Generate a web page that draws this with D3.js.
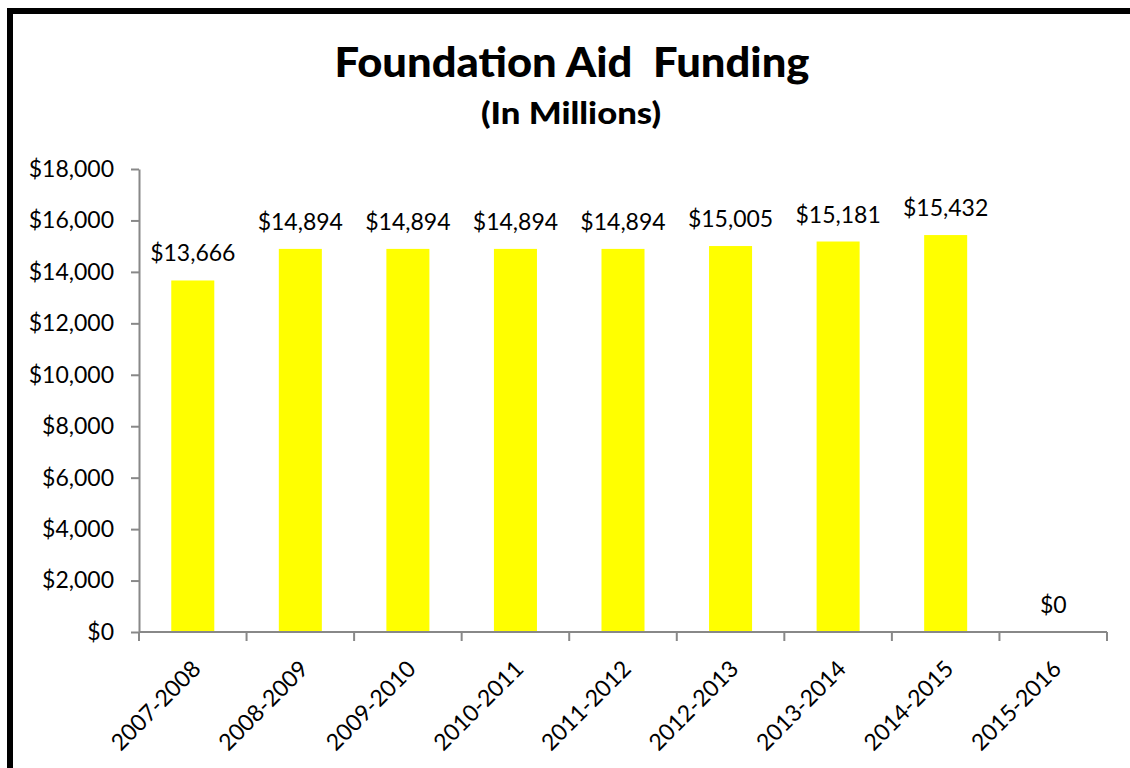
<!DOCTYPE html>
<html>
<head>
<meta charset="utf-8">
<script src="https://cdn.jsdelivr.net/npm/d3@7"></script>
<style>
  html, body { margin: 0; padding: 0; background: #fff; }
  svg { display: block; }
  text { font-family: Lato, "Open Sans", sans-serif; fill: #000; }
</style>
</head>
<body>
<svg id="chart" width="1130" height="768"></svg>
<script>
// Foundation Aid funding by school year, in millions of dollars
const years = ["2007-2008", "2008-2009", "2009-2010", "2010-2011", "2011-2012",
               "2012-2013", "2013-2014", "2014-2015", "2015-2016"];
const funding = [13666, 14894, 14894, 14894, 14894, 15005, 15181, 15432, 0];
const yTicks = [0, 2000, 4000, 6000, 8000, 10000, 12000, 14000, 16000, 18000];

const svg = d3.select("#chart");
const W = 1130, H = 768;
const plot = { left: 139, right: 1107, top: 169, bottom: 632 };
const money = d3.format("$,.0f");
const labelSize = "23px";

svg.append("rect").attr("width", W).attr("height", H).attr("fill", "#fff");

// Outer frame (top and left edges visible)
svg.append("path")
  .attr("d", `M10,${H + 10} L10,11 L${W + 10},11`)
  .attr("fill", "none")
  .attr("stroke", "#000")
  .attr("stroke-width", 6);

// Titles
svg.append("text")
  .attr("x", 572).attr("y", 77)
  .attr("text-anchor", "middle")
  .style("font-weight", "900").style("font-size", "41px")
  .attr("textLength", 475).attr("lengthAdjust", "spacingAndGlyphs")
  .attr("xml:space", "preserve")
  .text("Foundation Aid  Funding");

svg.append("text")
  .attr("x", 571).attr("y", 124)
  .attr("text-anchor", "middle")
  .style("font-weight", "900").style("font-size", "31px")
  .attr("textLength", 180).attr("lengthAdjust", "spacingAndGlyphs")
  .text("(In Millions)");

const x = d3.scaleBand()
  .domain(years)
  .range([plot.left, plot.right])
  .paddingInner(0.6)
  .paddingOuter(0.3);

const y = d3.scaleLinear()
  .domain([0, 18000])
  .range([plot.bottom, plot.top]);

const rows = years.map((yr, i) => ({ yr, v: funding[i] }));

// Bars
svg.append("g").selectAll("rect")
  .data(rows)
  .join("rect")
  .attr("x", d => x(d.yr))
  .attr("width", x.bandwidth())
  .attr("y", d => y(d.v))
  .attr("height", d => y(0) - y(d.v))
  .attr("fill", "#ffff00");

// Value labels
svg.append("g").selectAll("text")
  .data(rows)
  .join("text")
  .attr("x", d => x(d.yr) + x.bandwidth() / 2)
  .attr("y", d => y(d.v) - 19)
  .attr("text-anchor", "middle")
  .style("font-size", labelSize)
  .text(d => money(d.v));

// Y axis
const yAxis = svg.append("g")
  .attr("transform", `translate(${plot.left},0)`)
  .call(d3.axisLeft(y).tickValues(yTicks).tickFormat(money).tickSize(8).tickPadding(17).tickSizeOuter(0));
yAxis.select(".domain").attr("stroke", "#888").attr("stroke-width", 2);
yAxis.selectAll(".tick line").attr("stroke", "#888").attr("stroke-width", 2);
yAxis.selectAll(".tick text").style("font-size", labelSize).style("font-family", "Lato, sans-serif").attr("fill", "#000");

// X axis: baseline with ticks at category boundaries
const boundaries = d3.range(years.length + 1).map(i => plot.left + i * (plot.right - plot.left) / years.length);
const xg = svg.append("g");
xg.append("line")
  .attr("x1", plot.left).attr("x2", plot.right)
  .attr("y1", plot.bottom).attr("y2", plot.bottom)
  .attr("stroke", "#888").attr("stroke-width", 2);
xg.selectAll("line.tk")
  .data(boundaries)
  .join("line")
  .attr("class", "tk")
  .attr("x1", d => d).attr("x2", d => d)
  .attr("y1", plot.bottom).attr("y2", plot.bottom + 9)
  .attr("stroke", "#888").attr("stroke-width", 2);

xg.selectAll("text")
  .data(years)
  .join("text")
  .attr("transform", d => `translate(${x(d) + x.bandwidth() / 2 - 2},${plot.bottom + 27}) rotate(-45)`)
  .attr("text-anchor", "end")
  .attr("dy", "0.7em")
  .style("font-size", labelSize)
  .text(d => d);
</script>
</body>
</html>
